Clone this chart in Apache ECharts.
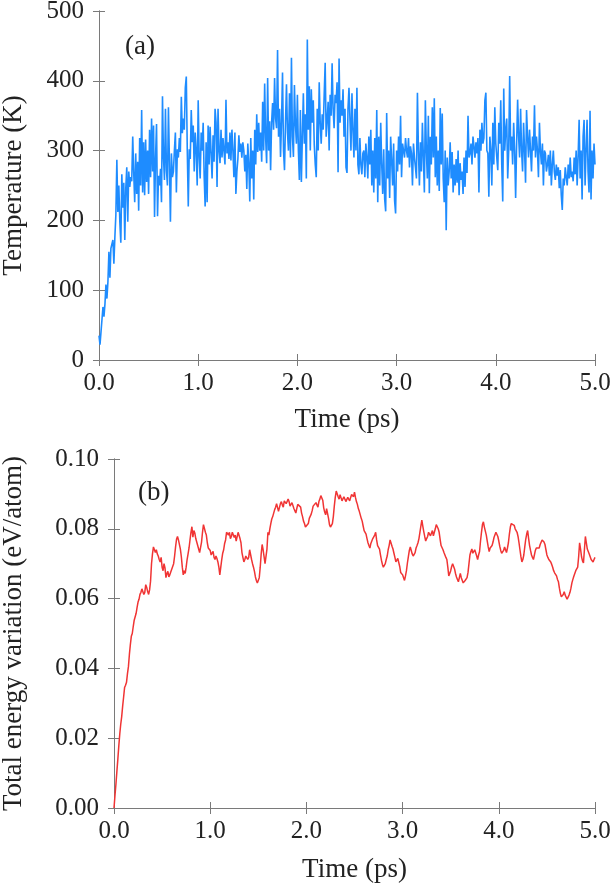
<!DOCTYPE html>
<html>
<head>
<meta charset="utf-8">
<script src="https://cdn.jsdelivr.net/npm/echarts@6/dist/echarts.min.js"></script>
<style>
  html, body { margin: 0; padding: 0; background: #fff; }
  #chart { width: 611px; height: 885px; }
</style>
</head>
<body>
<div id="chart"></div>
<script>
// ── Data ──
// (a) temperature in K, one sample every 0.01 ps from 0.00 to 5.00
const tempStep = 0.01
const temperature = [
  35, 22, 40, 58, 76, 62, 80, 108, 88, 112,
  155, 118, 160, 166, 172, 138, 176, 208, 287, 212,
  250, 198, 168, 266, 218, 254, 172, 246, 276, 198,
  270, 248, 262, 256, 320, 268, 226, 296, 238, 284,
  214, 318, 250, 358, 240, 312, 236, 316, 255, 300,
  238, 330, 262, 346, 270, 336, 205, 290, 338, 206,
  264, 250, 274, 226, 378, 290, 258, 360, 272, 250,
  362, 284, 198, 296, 262, 270, 300, 326, 240, 302,
  290, 318, 298, 377, 325, 346, 330, 390, 406, 300,
  220, 302, 288, 358, 312, 336, 270, 326, 300, 250,
  372, 290, 260, 326, 300, 340, 264, 220, 312, 226,
  336, 280, 334, 296, 260, 322, 284, 360, 340, 248,
  360, 300, 282, 330, 290, 318, 300, 280, 373, 296,
  312, 288, 326, 286, 330, 300, 262, 326, 238, 270,
  288, 322, 298, 310, 290, 312, 300, 270, 294, 245,
  310, 282, 227, 318, 260, 300, 230, 330, 280, 352,
  298, 340, 300, 326, 284, 370, 300, 396, 318, 282,
  404, 300, 342, 272, 340, 368, 330, 404, 346, 332,
  444, 320, 360, 291, 342, 412, 300, 272, 340, 395,
  326, 300, 382, 290, 433, 320, 291, 394, 338, 310,
  380, 300, 258, 358, 255, 320, 382, 310, 352, 260,
  459, 330, 392, 300, 388, 340, 372, 308, 280, 262,
  360, 300, 398, 340, 310, 352, 330, 380, 426, 320,
  344, 370, 300, 380, 350, 425, 360, 332, 380, 368,
  398, 269, 432, 340, 372, 350, 388, 320, 360, 276,
  268, 360, 390, 344, 300, 382, 330, 290, 360, 300,
  390, 280, 266, 318, 280, 266, 296, 300, 262, 310,
  290, 260, 320, 280, 330, 250, 300, 240, 318, 260,
  358, 226, 320, 250, 340, 280, 238, 302, 230, 213,
  354, 260, 300, 232, 320, 286, 250, 310, 228, 210,
  300, 270, 320, 280, 350, 262, 310, 300, 290, 318,
  300, 290, 318, 276, 306, 296, 250, 310, 290, 276,
  260, 383, 300, 250, 312, 270, 340, 290, 240, 372,
  300, 260, 350, 239, 320, 280, 362, 290, 375, 262,
  320, 250, 300, 242, 361, 280, 353, 260, 226, 300,
  186, 290, 250, 270, 312, 260, 298, 240, 280, 250,
  288, 254, 300, 236, 282, 258, 270, 238, 290, 248,
  300, 268, 350, 290, 296, 310, 280, 320, 306, 290,
  312, 296, 318, 240, 330, 300, 340, 310, 318, 372,
  383, 300, 296, 234, 320, 300, 250, 340, 280, 362,
  310, 290, 272, 340, 310, 372, 280, 227, 389, 300,
  330, 346, 260, 300, 407, 300, 320, 280, 340, 300,
  232, 310, 373, 320, 290, 360, 300, 270, 340, 300,
  254, 358, 320, 290, 330, 300, 270, 320, 300, 365,
  290, 320, 300, 262, 340, 300, 280, 310, 250, 300,
  296, 270, 280, 294, 264, 300, 250, 280, 300, 270,
  258, 280, 264, 276, 246, 272, 236, 215, 260, 250,
  276, 262, 250, 280, 260, 290, 262, 270, 256, 290,
  266, 300, 250, 292, 344, 260, 300, 230, 320, 344,
  250, 300, 344, 270, 240, 357, 230, 300, 260, 310,
  280
]

// (b) total energy variation in eV/atom, one sample every 0.01 ps
const energyStep = 0.01
const energy = [
  0.0000, 0.0035, 0.0068, 0.0105, 0.0140, 0.0178, 0.0212, 0.0240, 0.0262, 0.0292,
  0.0318, 0.0345, 0.0352, 0.0360, 0.0385, 0.0405, 0.0440, 0.0468, 0.0492, 0.0500,
  0.0520, 0.0538, 0.0548, 0.0558, 0.0575, 0.0590, 0.0598, 0.0612, 0.0618, 0.0628,
  0.0630, 0.0612, 0.0618, 0.0640, 0.0632, 0.0620, 0.0612, 0.0625, 0.0650, 0.0700,
  0.0728, 0.0748, 0.0745, 0.0732, 0.0740, 0.0728, 0.0722, 0.0712, 0.0705, 0.0718,
  0.0690, 0.0680, 0.0700, 0.0688, 0.0660, 0.0672, 0.0678, 0.0662, 0.0668, 0.0676,
  0.0680, 0.0692, 0.0700, 0.0722, 0.0748, 0.0770, 0.0778, 0.0768, 0.0765, 0.0742,
  0.0720, 0.0690, 0.0668, 0.0680, 0.0672, 0.0690, 0.0712, 0.0728, 0.0745, 0.0768,
  0.0790, 0.0806, 0.0776, 0.0795, 0.0788, 0.0772, 0.0768, 0.0752, 0.0742, 0.0732,
  0.0735, 0.0762, 0.0790, 0.0812, 0.0808, 0.0790, 0.0782, 0.0760, 0.0745, 0.0750,
  0.0738, 0.0725, 0.0728, 0.0735, 0.0718, 0.0712, 0.0722, 0.0715, 0.0705, 0.0690,
  0.0668, 0.0690, 0.0712, 0.0730, 0.0740, 0.0758, 0.0768, 0.0790, 0.0795, 0.0782,
  0.0790, 0.0772, 0.0778, 0.0790, 0.0795, 0.0775, 0.0782, 0.0765, 0.0770, 0.0790,
  0.0785, 0.0772, 0.0760, 0.0732, 0.0718, 0.0705, 0.0712, 0.0722, 0.0725, 0.0712,
  0.0718, 0.0740, 0.0738, 0.0712, 0.0700, 0.0690, 0.0678, 0.0662, 0.0652, 0.0645,
  0.0642, 0.0660, 0.0690, 0.0728, 0.0755, 0.0740, 0.0720, 0.0700, 0.0695, 0.0742,
  0.0790, 0.0782, 0.0800, 0.0815, 0.0828, 0.0835, 0.0840, 0.0855, 0.0862, 0.0872,
  0.0868, 0.0850, 0.0855, 0.0872, 0.0878, 0.0868, 0.0862, 0.0880, 0.0885, 0.0872,
  0.0870, 0.0885, 0.0878, 0.0865, 0.0860, 0.0875, 0.0872, 0.0858, 0.0852, 0.0845,
  0.0858, 0.0870, 0.0875, 0.0868, 0.0862, 0.0845, 0.0835, 0.0822, 0.0815, 0.0805,
  0.0800, 0.0808, 0.0815, 0.0830, 0.0828, 0.0842, 0.0852, 0.0865, 0.0868, 0.0860,
  0.0875, 0.0868, 0.0862, 0.0878, 0.0885, 0.0895, 0.0900, 0.0882, 0.0860, 0.0848,
  0.0840, 0.0858, 0.0855, 0.0830, 0.0812, 0.0805, 0.0800, 0.0815, 0.0835, 0.0865,
  0.0890, 0.0908, 0.0905, 0.0892, 0.0885, 0.0898, 0.0895, 0.0880, 0.0882, 0.0892,
  0.0888, 0.0878, 0.0880, 0.0890, 0.0885, 0.0880, 0.0890, 0.0898, 0.0900, 0.0892,
  0.0905, 0.0890, 0.0878, 0.0870, 0.0858, 0.0850, 0.0845, 0.0830, 0.0822, 0.0808,
  0.0795, 0.0790, 0.0785, 0.0772, 0.0760, 0.0752, 0.0745, 0.0758, 0.0765, 0.0772,
  0.0770, 0.0782, 0.0790, 0.0768, 0.0752, 0.0748, 0.0742, 0.0725, 0.0710, 0.0698,
  0.0690, 0.0688, 0.0700, 0.0712, 0.0722, 0.0740, 0.0752, 0.0768, 0.0765, 0.0750,
  0.0742, 0.0730, 0.0718, 0.0705, 0.0700, 0.0715, 0.0712, 0.0692, 0.0675, 0.0670,
  0.0668, 0.0660, 0.0652, 0.0665, 0.0680, 0.0702, 0.0720, 0.0738, 0.0748, 0.0738,
  0.0728, 0.0722, 0.0720, 0.0732, 0.0745, 0.0752, 0.0760, 0.0772, 0.0790, 0.0808,
  0.0825, 0.0808, 0.0792, 0.0778, 0.0765, 0.0772, 0.0778, 0.0790, 0.0790, 0.0780,
  0.0785, 0.0795, 0.0780, 0.0790, 0.0800, 0.0812, 0.0815, 0.0800, 0.0790, 0.0770,
  0.0752, 0.0748, 0.0740, 0.0732, 0.0725, 0.0718, 0.0712, 0.0690, 0.0665, 0.0672,
  0.0680, 0.0692, 0.0700, 0.0695, 0.0685, 0.0672, 0.0662, 0.0655, 0.0648, 0.0660,
  0.0672, 0.0660, 0.0655, 0.0645, 0.0640, 0.0652, 0.0648, 0.0660, 0.0675, 0.0700,
  0.0725, 0.0735, 0.0742, 0.0730, 0.0728, 0.0740, 0.0738, 0.0722, 0.0712, 0.0725,
  0.0735, 0.0765, 0.0790, 0.0812, 0.0820, 0.0805, 0.0800, 0.0782, 0.0765, 0.0748,
  0.0735, 0.0745, 0.0742, 0.0752, 0.0762, 0.0775, 0.0780, 0.0790, 0.0795, 0.0778,
  0.0765, 0.0750, 0.0738, 0.0730, 0.0726, 0.0738, 0.0748, 0.0740, 0.0732, 0.0745,
  0.0760, 0.0785, 0.0805, 0.0815, 0.0820, 0.0812, 0.0810, 0.0800, 0.0798, 0.0790,
  0.0778, 0.0760, 0.0740, 0.0720, 0.0705, 0.0712, 0.0725, 0.0748, 0.0770, 0.0785,
  0.0795, 0.0772, 0.0752, 0.0738, 0.0725, 0.0718, 0.0712, 0.0725, 0.0738, 0.0745,
  0.0750, 0.0742, 0.0745, 0.0755, 0.0760, 0.0768, 0.0770, 0.0762, 0.0755, 0.0740,
  0.0725, 0.0718, 0.0712, 0.0708, 0.0705, 0.0698, 0.0690, 0.0680, 0.0674, 0.0670,
  0.0665, 0.0655, 0.0648, 0.0630, 0.0615, 0.0605, 0.0600, 0.0612, 0.0620, 0.0610,
  0.0605, 0.0598, 0.0600, 0.0610, 0.0618, 0.0630, 0.0645, 0.0655, 0.0664, 0.0672,
  0.0680, 0.0685, 0.0690, 0.0720, 0.0760, 0.0742, 0.0720, 0.0708, 0.0702, 0.0740,
  0.0778, 0.0760, 0.0742, 0.0735, 0.0728, 0.0720, 0.0712, 0.0708, 0.0705, 0.0712,
  0.0718
]

const timeTicks = [0, 1, 2, 3, 4, 5]
const panelLabels = ['(a)', '(b)']

// ── Helpers ──
const FONT = '"Liberation Serif", "DejaVu Serif", serif'
const AXIS_COLOR = '#7a7a7a'
const TEXT_COLOR = '#222'
const TICK_SIZE = 25
const NAME_SIZE = 27

function toPairs(values, step) {
  return values.map((v, i) => [Number((i * step).toFixed(2)), v])
}

function xAxisFor(gridIndex, nameGap) {
  return [
    {
      gridIndex,
      type: 'value',
      min: timeTicks[0],
      max: timeTicks[timeTicks.length - 1],
      interval: 1,
      name: 'Time (ps)',
      nameLocation: 'middle',
      nameGap,
      nameTextStyle: { fontFamily: FONT, fontSize: NAME_SIZE, color: TEXT_COLOR },
      axisLine: { show: true, lineStyle: { color: AXIS_COLOR, width: 1 } },
      axisTick: { inside: true, length: 6, lineStyle: { color: AXIS_COLOR } },
      axisLabel: {
        margin: 11,
        fontFamily: FONT,
        fontSize: TICK_SIZE,
        color: TEXT_COLOR,
        formatter: (v) => v.toFixed(1),
      },
      splitLine: { show: false },
    },
    {
      // mirrored ticks on the top edge
      gridIndex,
      type: 'value',
      position: 'top',
      min: timeTicks[0],
      max: timeTicks[timeTicks.length - 1],
      interval: 1,
      axisLine: { show: true, lineStyle: { color: AXIS_COLOR, width: 1 } },
      axisTick: { inside: true, length: 6, lineStyle: { color: AXIS_COLOR } },
      axisLabel: { show: false },
      splitLine: { show: false },
    },
  ]
}

function yAxisFor(gridIndex, opts) {
  return [
    {
      gridIndex,
      type: 'value',
      min: opts.min,
      max: opts.max,
      interval: opts.interval,
      name: opts.name,
      nameLocation: 'middle',
      nameGap: opts.nameGap,
      nameTextStyle: { fontFamily: FONT, fontSize: NAME_SIZE, color: TEXT_COLOR },
      axisLine: { show: true, lineStyle: { color: AXIS_COLOR, width: 1 } },
      axisTick: { inside: true, length: 6, lineStyle: { color: AXIS_COLOR } },
      axisLabel: {
        margin: 15,
        fontFamily: FONT,
        fontSize: TICK_SIZE,
        color: TEXT_COLOR,
        formatter: opts.formatter,
      },
      splitLine: { show: false },
    },
    {
      // mirrored ticks on the right edge
      gridIndex,
      type: 'value',
      position: 'right',
      min: opts.min,
      max: opts.max,
      interval: opts.interval,
      axisLine: { show: true, lineStyle: { color: AXIS_COLOR, width: 1 } },
      axisTick: { inside: true, length: 6, lineStyle: { color: AXIS_COLOR } },
      axisLabel: { show: false },
      splitLine: { show: false },
    },
  ]
}

const chart = echarts.init(document.getElementById('chart'), null, { renderer: 'canvas' })

chart.setOption({
  animation: false,
  backgroundColor: '#fff',
  grid: [
    { left: 99, top: 11, width: 496, height: 349, containLabel: false, outerBoundsMode: 'none' },
    { left: 114, top: 459, width: 481, height: 349, containLabel: false, outerBoundsMode: 'none' },
  ],
  xAxis: [...xAxisFor(0, 46), ...xAxisFor(1, 48)],
  yAxis: [
    ...yAxisFor(0, {
      min: 0, max: 500, interval: 100,
      name: 'Temperature (K)', nameGap: 72,
      formatter: (v) => String(v),
    }),
    ...yAxisFor(1, {
      min: 0, max: 0.1, interval: 0.02,
      name: 'Total energy variation (eV/atom)', nameGap: 87,
      formatter: (v) => v.toFixed(2),
    }),
  ],
  graphic: [
    {
      type: 'text', left: 125, top: 33,
      style: { text: panelLabels[0], font: NAME_SIZE + 'px ' + FONT, fill: TEXT_COLOR },
    },
    {
      type: 'text', left: 138, top: 479,
      style: { text: panelLabels[1], font: NAME_SIZE + 'px ' + FONT, fill: TEXT_COLOR },
    },
  ],
  series: [
    {
      type: 'line',
      xAxisIndex: 0,
      yAxisIndex: 0,
      data: toPairs(temperature, tempStep),
      showSymbol: false,
      lineStyle: { color: '#1e8cff', width: 1.6 },
      z: 1,
    },
    {
      type: 'line',
      xAxisIndex: 2,
      yAxisIndex: 2,
      data: toPairs(energy, energyStep),
      showSymbol: false,
      lineStyle: { color: '#f03434', width: 1.5 },
      z: 1,
    },
  ],
})
</script>
</body>
</html>
